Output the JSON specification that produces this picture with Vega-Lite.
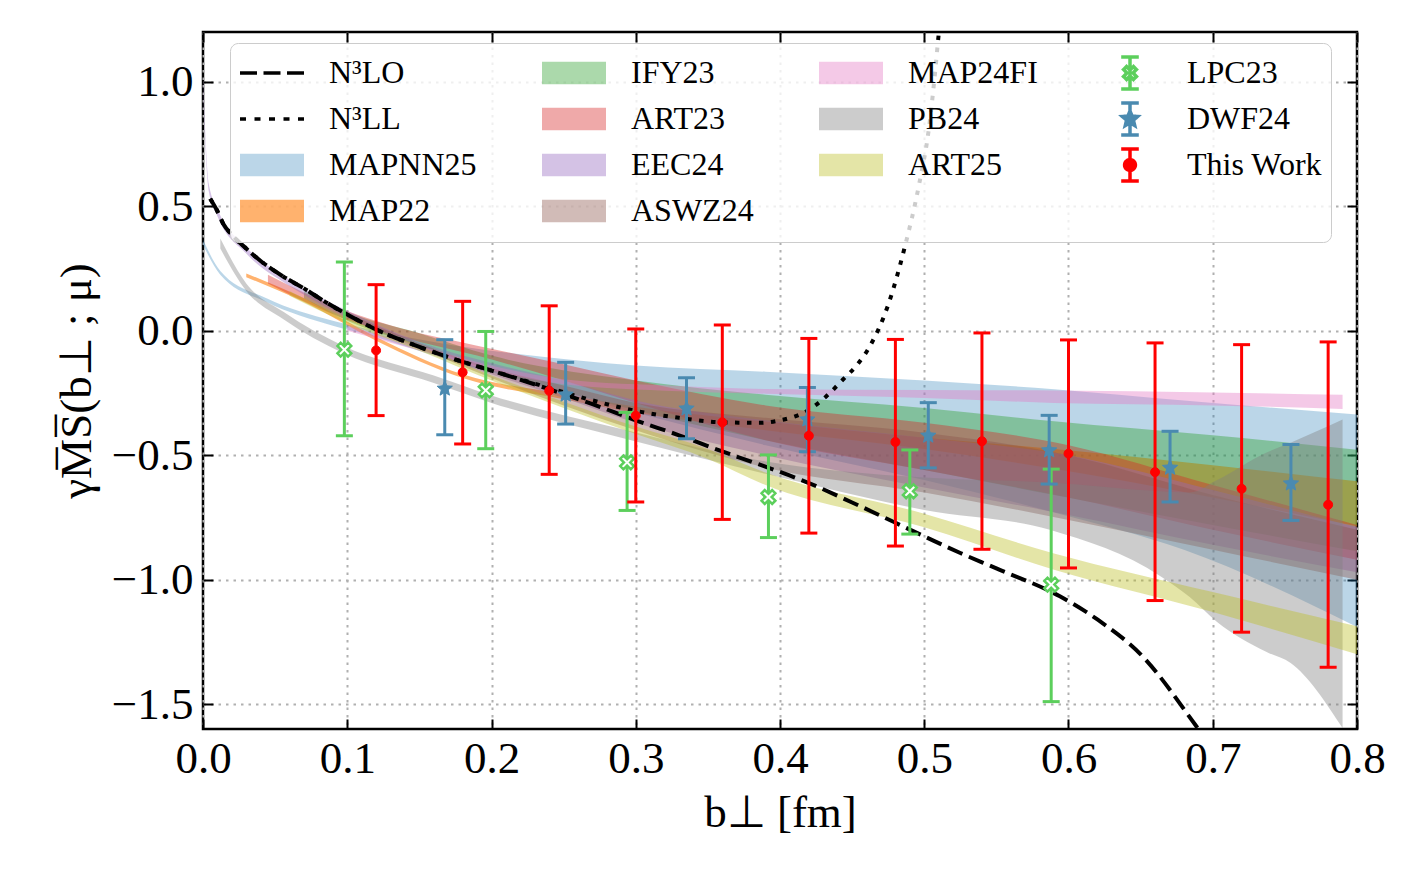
{
  "$schema": "https://vega.github.io/schema/vega-lite/v6.json",
  "width": 1154,
  "height": 697,
  "autosize": {"type": "none"},
  "padding": {"left": 203, "top": 32, "right": 63, "bottom": 149},
  "background": "white",
  "config": {
    "view": {"stroke": "black", "strokeWidth": 2.5},
    "axis": {"domain": false, "tickColor": "black", "tickWidth": 2, "tickSize": -10, "labelFont": "Liberation Serif", "labelFontSize": 45, "labelColor": "black", "titleFont": "Liberation Serif", "titleFontSize": 45, "titleFontWeight": "normal", "titleColor": "black", "gridColor": "#b0b0b0", "gridDash": [2.5, 5], "gridWidth": 2, "gridOpacity": 1, "labelOverlap": false, "labelFlush": false}
  },
  "datasets": {
    "bands": [
      {"series": "MAPNN25", "b": 0.0, "lo": 0.345, "hi": 0.365},
      {"series": "MAPNN25", "b": 0.012, "lo": 0.225, "hi": 0.24},
      {"series": "MAPNN25", "b": 0.044, "lo": 0.115, "hi": 0.13},
      {"series": "MAPNN25", "b": 0.09, "lo": 0.02, "hi": 0.04},
      {"series": "MAPNN25", "b": 0.12, "lo": -0.025, "hi": 0.0},
      {"series": "MAPNN25", "b": 0.16, "lo": -0.1, "hi": -0.045},
      {"series": "MAPNN25", "b": 0.22, "lo": -0.2, "hi": -0.095},
      {"series": "MAPNN25", "b": 0.3, "lo": -0.33, "hi": -0.14},
      {"series": "MAPNN25", "b": 0.39, "lo": -0.46, "hi": -0.165},
      {"series": "MAPNN25", "b": 0.5, "lo": -0.6, "hi": -0.2},
      {"series": "MAPNN25", "b": 0.59, "lo": -0.73, "hi": -0.235},
      {"series": "MAPNN25", "b": 0.68, "lo": -0.88, "hi": -0.28},
      {"series": "MAPNN25", "b": 0.8, "lo": -1.19, "hi": -0.337},
      {"series": "MAP22", "b": 0.03, "lo": 0.215, "hi": 0.23},
      {"series": "MAP22", "b": 0.07, "lo": 0.115, "hi": 0.13},
      {"series": "MAP22", "b": 0.12, "lo": -0.04, "hi": -0.025},
      {"series": "MAP22", "b": 0.18, "lo": -0.19, "hi": -0.175},
      {"series": "MAP22", "b": 0.25, "lo": -0.275, "hi": -0.255},
      {"series": "MAP22", "b": 0.3, "lo": -0.33, "hi": -0.305},
      {"series": "MAP22", "b": 0.39, "lo": -0.4, "hi": -0.365},
      {"series": "MAP22", "b": 0.5, "lo": -0.475, "hi": -0.43},
      {"series": "MAP22", "b": 0.59, "lo": -0.555, "hi": -0.475},
      {"series": "MAP22", "b": 0.7, "lo": -0.67, "hi": -0.54},
      {"series": "MAP22", "b": 0.8, "lo": -0.786, "hi": -0.605},
      {"series": "IFY23", "b": 0.07, "lo": 0.13, "hi": 0.16},
      {"series": "IFY23", "b": 0.1, "lo": 0.04, "hi": 0.075},
      {"series": "IFY23", "b": 0.15, "lo": -0.06, "hi": -0.01},
      {"series": "IFY23", "b": 0.2, "lo": -0.16, "hi": -0.1},
      {"series": "IFY23", "b": 0.3, "lo": -0.32, "hi": -0.2},
      {"series": "IFY23", "b": 0.39, "lo": -0.44, "hi": -0.257},
      {"series": "IFY23", "b": 0.5, "lo": -0.56, "hi": -0.31},
      {"series": "IFY23", "b": 0.59, "lo": -0.66, "hi": -0.364},
      {"series": "IFY23", "b": 0.7, "lo": -0.78, "hi": -0.42},
      {"series": "IFY23", "b": 0.8, "lo": -0.886, "hi": -0.478},
      {"series": "ART23", "b": 0.045, "lo": 0.19, "hi": 0.225},
      {"series": "ART23", "b": 0.097, "lo": 0.05, "hi": 0.085},
      {"series": "ART23", "b": 0.137, "lo": -0.025, "hi": 0.01},
      {"series": "ART23", "b": 0.19, "lo": -0.1, "hi": -0.06},
      {"series": "ART23", "b": 0.25, "lo": -0.2, "hi": -0.135},
      {"series": "ART23", "b": 0.3, "lo": -0.29, "hi": -0.2},
      {"series": "ART23", "b": 0.39, "lo": -0.44, "hi": -0.3},
      {"series": "ART23", "b": 0.5, "lo": -0.56, "hi": -0.37},
      {"series": "ART23", "b": 0.6, "lo": -0.67, "hi": -0.46},
      {"series": "ART23", "b": 0.7, "lo": -0.8, "hi": -0.62},
      {"series": "ART23", "b": 0.8, "lo": -0.92, "hi": -0.78},
      {"series": "EEC24", "b": 0.0, "lo": 0.98, "hi": 1.02},
      {"series": "EEC24", "b": 0.001, "lo": 0.83, "hi": 0.87},
      {"series": "EEC24", "b": 0.004, "lo": 0.56, "hi": 0.59},
      {"series": "EEC24", "b": 0.01, "lo": 0.46, "hi": 0.49},
      {"series": "EEC24", "b": 0.03, "lo": 0.31, "hi": 0.335},
      {"series": "EEC24", "b": 0.06, "lo": 0.18, "hi": 0.205},
      {"series": "EEC24", "b": 0.1, "lo": 0.055, "hi": 0.08},
      {"series": "EEC24", "b": 0.15, "lo": -0.075, "hi": -0.045},
      {"series": "EEC24", "b": 0.2, "lo": -0.175, "hi": -0.13},
      {"series": "EEC24", "b": 0.25, "lo": -0.27, "hi": -0.2},
      {"series": "EEC24", "b": 0.3, "lo": -0.37, "hi": -0.28},
      {"series": "EEC24", "b": 0.39, "lo": -0.5, "hi": -0.36},
      {"series": "EEC24", "b": 0.5, "lo": -0.63, "hi": -0.43},
      {"series": "EEC24", "b": 0.6, "lo": -0.74, "hi": -0.5},
      {"series": "EEC24", "b": 0.7, "lo": -0.86, "hi": -0.64},
      {"series": "EEC24", "b": 0.8, "lo": -0.97, "hi": -0.79},
      {"series": "ASWZ24", "b": 0.1, "lo": 0.05, "hi": 0.07},
      {"series": "ASWZ24", "b": 0.15, "lo": -0.07, "hi": -0.05},
      {"series": "ASWZ24", "b": 0.2, "lo": -0.19, "hi": -0.15},
      {"series": "ASWZ24", "b": 0.25, "lo": -0.3, "hi": -0.22},
      {"series": "ASWZ24", "b": 0.3, "lo": -0.4, "hi": -0.29},
      {"series": "ASWZ24", "b": 0.39, "lo": -0.55, "hi": -0.35},
      {"series": "ASWZ24", "b": 0.5, "lo": -0.65, "hi": -0.41},
      {"series": "ASWZ24", "b": 0.6, "lo": -0.76, "hi": -0.5},
      {"series": "ASWZ24", "b": 0.7, "lo": -0.88, "hi": -0.66},
      {"series": "ASWZ24", "b": 0.8, "lo": -1.0, "hi": -0.8},
      {"series": "MAP24FI", "b": 0.1, "lo": 0.0, "hi": 0.02},
      {"series": "MAP24FI", "b": 0.15, "lo": -0.08, "hi": -0.06},
      {"series": "MAP24FI", "b": 0.2, "lo": -0.16, "hi": -0.14},
      {"series": "MAP24FI", "b": 0.25, "lo": -0.215, "hi": -0.195},
      {"series": "MAP24FI", "b": 0.33, "lo": -0.243, "hi": -0.222},
      {"series": "MAP24FI", "b": 0.39, "lo": -0.253, "hi": -0.234},
      {"series": "MAP24FI", "b": 0.5, "lo": -0.27, "hi": -0.238},
      {"series": "MAP24FI", "b": 0.59, "lo": -0.29, "hi": -0.24},
      {"series": "MAP24FI", "b": 0.7, "lo": -0.3, "hi": -0.248},
      {"series": "MAP24FI", "b": 0.79, "lo": -0.314, "hi": -0.257},
      {"series": "PB24", "b": 0.012, "lo": 0.33, "hi": 0.37},
      {"series": "PB24", "b": 0.03, "lo": 0.16, "hi": 0.19},
      {"series": "PB24", "b": 0.056, "lo": 0.045, "hi": 0.075},
      {"series": "PB24", "b": 0.097, "lo": -0.09, "hi": -0.06},
      {"series": "PB24", "b": 0.16, "lo": -0.21, "hi": -0.18},
      {"series": "PB24", "b": 0.2, "lo": -0.29, "hi": -0.26},
      {"series": "PB24", "b": 0.29, "lo": -0.43, "hi": -0.395},
      {"series": "PB24", "b": 0.39, "lo": -0.575, "hi": -0.525},
      {"series": "PB24", "b": 0.5, "lo": -0.72, "hi": -0.59},
      {"series": "PB24", "b": 0.587, "lo": -0.8, "hi": -0.61},
      {"series": "PB24", "b": 0.664, "lo": -0.987, "hi": -0.645},
      {"series": "PB24", "b": 0.684, "lo": -1.07, "hi": -0.65},
      {"series": "PB24", "b": 0.703, "lo": -1.17, "hi": -0.6},
      {"series": "PB24", "b": 0.737, "lo": -1.29, "hi": -0.49},
      {"series": "PB24", "b": 0.754, "lo": -1.335, "hi": -0.45},
      {"series": "PB24", "b": 0.79, "lo": -1.596, "hi": -0.357},
      {"series": "ART25", "b": 0.06, "lo": 0.14, "hi": 0.16},
      {"series": "ART25", "b": 0.1, "lo": 0.03, "hi": 0.05},
      {"series": "ART25", "b": 0.15, "lo": -0.08, "hi": -0.06},
      {"series": "ART25", "b": 0.2, "lo": -0.2, "hi": -0.18},
      {"series": "ART25", "b": 0.25, "lo": -0.31, "hi": -0.285},
      {"series": "ART25", "b": 0.3, "lo": -0.415, "hi": -0.385},
      {"series": "ART25", "b": 0.35, "lo": -0.515, "hi": -0.475},
      {"series": "ART25", "b": 0.39, "lo": -0.62, "hi": -0.57},
      {"series": "ART25", "b": 0.5, "lo": -0.79, "hi": -0.735},
      {"series": "ART25", "b": 0.59, "lo": -0.96, "hi": -0.895},
      {"series": "ART25", "b": 0.7, "lo": -1.13, "hi": -1.05},
      {"series": "ART25", "b": 0.8, "lo": -1.3, "hi": -1.187}
    ],
    "curves": [
      {"series": "N³LO", "b": 0.005, "v": 0.53},
      {"series": "N³LO", "b": 0.01, "v": 0.48},
      {"series": "N³LO", "b": 0.014, "v": 0.43},
      {"series": "N³LO", "b": 0.02, "v": 0.385},
      {"series": "N³LO", "b": 0.03, "v": 0.33},
      {"series": "N³LO", "b": 0.04, "v": 0.28},
      {"series": "N³LO", "b": 0.055, "v": 0.22},
      {"series": "N³LO", "b": 0.07, "v": 0.17},
      {"series": "N³LO", "b": 0.085, "v": 0.115},
      {"series": "N³LO", "b": 0.1, "v": 0.065},
      {"series": "N³LO", "b": 0.12, "v": 0.005},
      {"series": "N³LO", "b": 0.15, "v": -0.065},
      {"series": "N³LO", "b": 0.18, "v": -0.125},
      {"series": "N³LO", "b": 0.2, "v": -0.16},
      {"series": "N³LO", "b": 0.24, "v": -0.235},
      {"series": "N³LO", "b": 0.27, "v": -0.295},
      {"series": "N³LO", "b": 0.3, "v": -0.36},
      {"series": "N³LO", "b": 0.33, "v": -0.42},
      {"series": "N³LO", "b": 0.36, "v": -0.485},
      {"series": "N³LO", "b": 0.386, "v": -0.538},
      {"series": "N³LO", "b": 0.42, "v": -0.612},
      {"series": "N³LO", "b": 0.45, "v": -0.69},
      {"series": "N³LO", "b": 0.5, "v": -0.826},
      {"series": "N³LO", "b": 0.525, "v": -0.893},
      {"series": "N³LO", "b": 0.55, "v": -0.955},
      {"series": "N³LO", "b": 0.594, "v": -1.067},
      {"series": "N³LO", "b": 0.62, "v": -1.16},
      {"series": "N³LO", "b": 0.65, "v": -1.3},
      {"series": "N³LO", "b": 0.69, "v": -1.6},
      {"series": "N³LO", "b": 0.71, "v": -1.76},
      {"series": "N³LL", "b": 0.005, "v": 0.53},
      {"series": "N³LL", "b": 0.01, "v": 0.48},
      {"series": "N³LL", "b": 0.014, "v": 0.43},
      {"series": "N³LL", "b": 0.02, "v": 0.385},
      {"series": "N³LL", "b": 0.03, "v": 0.33},
      {"series": "N³LL", "b": 0.04, "v": 0.28},
      {"series": "N³LL", "b": 0.055, "v": 0.22},
      {"series": "N³LL", "b": 0.07, "v": 0.17},
      {"series": "N³LL", "b": 0.085, "v": 0.115},
      {"series": "N³LL", "b": 0.1, "v": 0.065},
      {"series": "N³LL", "b": 0.12, "v": 0.005},
      {"series": "N³LL", "b": 0.15, "v": -0.065},
      {"series": "N³LL", "b": 0.18, "v": -0.125},
      {"series": "N³LL", "b": 0.2, "v": -0.16},
      {"series": "N³LL", "b": 0.24, "v": -0.23},
      {"series": "N³LL", "b": 0.27, "v": -0.28},
      {"series": "N³LL", "b": 0.3, "v": -0.322},
      {"series": "N³LL", "b": 0.33, "v": -0.35},
      {"series": "N³LL", "b": 0.36, "v": -0.368},
      {"series": "N³LL", "b": 0.386, "v": -0.37},
      {"series": "N³LL", "b": 0.4, "v": -0.36},
      {"series": "N³LL", "b": 0.41, "v": -0.345},
      {"series": "N³LL", "b": 0.42, "v": -0.318},
      {"series": "N³LL", "b": 0.432, "v": -0.264},
      {"series": "N³LL", "b": 0.444, "v": -0.194},
      {"series": "N³LL", "b": 0.453, "v": -0.14},
      {"series": "N³LL", "b": 0.463, "v": -0.055},
      {"series": "N³LL", "b": 0.475, "v": 0.104},
      {"series": "N³LL", "b": 0.486, "v": 0.325},
      {"series": "N³LL", "b": 0.4966, "v": 0.593},
      {"series": "N³LL", "b": 0.5031, "v": 0.807},
      {"series": "N³LL", "b": 0.507, "v": 1.008},
      {"series": "N³LL", "b": 0.5101, "v": 1.196},
      {"series": "N³LL", "b": 0.512, "v": 1.3}
    ],
    "points": [
      {"series": "LPC23", "b": 0.098, "v": -0.076, "lo": -0.422, "hi": 0.276},
      {"series": "LPC23", "b": 0.196, "v": -0.24, "lo": -0.474, "hi": -0.003},
      {"series": "LPC23", "b": 0.294, "v": -0.529, "lo": -0.722, "hi": -0.328},
      {"series": "LPC23", "b": 0.392, "v": -0.668, "lo": -0.831, "hi": -0.499},
      {"series": "LPC23", "b": 0.49, "v": -0.645, "lo": -0.817, "hi": -0.479},
      {"series": "LPC23", "b": 0.588, "v": -1.02, "lo": -1.49, "hi": -0.556},
      {"series": "DWF24", "b": 0.1676, "v": -0.233, "lo": -0.418, "hi": -0.036},
      {"series": "DWF24", "b": 0.2514, "v": -0.257, "lo": -0.375, "hi": -0.127},
      {"series": "DWF24", "b": 0.3352, "v": -0.313, "lo": -0.434, "hi": -0.189},
      {"series": "DWF24", "b": 0.419, "v": -0.357, "lo": -0.486, "hi": -0.228},
      {"series": "DWF24", "b": 0.5028, "v": -0.422, "lo": -0.551, "hi": -0.289},
      {"series": "DWF24", "b": 0.5866, "v": -0.481, "lo": -0.616, "hi": -0.34},
      {"series": "DWF24", "b": 0.6704, "v": -0.551, "lo": -0.688, "hi": -0.404},
      {"series": "DWF24", "b": 0.7542, "v": -0.614, "lo": -0.762, "hi": -0.457},
      {"series": "This Work", "b": 0.12, "v": -0.079, "lo": -0.341, "hi": 0.185},
      {"series": "This Work", "b": 0.18, "v": -0.167, "lo": -0.455, "hi": 0.118},
      {"series": "This Work", "b": 0.24, "v": -0.241, "lo": -0.577, "hi": 0.1},
      {"series": "This Work", "b": 0.3, "v": -0.341, "lo": -0.688, "hi": 0.007},
      {"series": "This Work", "b": 0.36, "v": -0.368, "lo": -0.758, "hi": 0.023},
      {"series": "This Work", "b": 0.42, "v": -0.422, "lo": -0.813, "hi": -0.031},
      {"series": "This Work", "b": 0.48, "v": -0.447, "lo": -0.865, "hi": -0.035},
      {"series": "This Work", "b": 0.54, "v": -0.444, "lo": -0.878, "hi": -0.009},
      {"series": "This Work", "b": 0.6, "v": -0.494, "lo": -0.953, "hi": -0.037},
      {"series": "This Work", "b": 0.66, "v": -0.568, "lo": -1.084, "hi": -0.049},
      {"series": "This Work", "b": 0.72, "v": -0.635, "lo": -1.211, "hi": -0.056},
      {"series": "This Work", "b": 0.78, "v": -0.699, "lo": -1.352, "hi": -0.045}
    ]
  },
  "layer": [
    {
      "data": {"name": "bands"},
      "transform": [{"filter": "datum.series === 'MAPNN25'"}],
      "mark": {"type": "area", "interpolate": "monotone", "clip": true, "fillOpacity": 0.3},
      "encoding": {
        "x": {"field": "b", "type": "quantitative", "scale": {"domain": [0, 0.8], "nice": false, "zero": false},
              "axis": {"orient": "bottom", "values": [0, 0.1, 0.2, 0.3, 0.4, 0.5, 0.6, 0.7, 0.8], "format": ".1f", "grid": true, "labelPadding": 17, "title": "b⊥ [fm]", "titlePadding": 9}},
        "y": {"field": "lo", "type": "quantitative", "scale": {"domain": [-1.6, 1.2], "nice": false, "zero": false},
              "axis": {"orient": "left", "values": [-1.5, -1, -0.5, 0, 0.5, 1], "format": ".1f", "grid": true, "labelPadding": 20, "title": "γM̅S̅(b⊥ ; μ)", "titlePadding": 12}},
        "y2": {"field": "hi"},
        "color": {"field": "series", "type": "nominal", "legend": null,
          "scale": {"domain": ["N³LO", "N³LL", "MAPNN25", "MAP22", "IFY23", "ART23", "EEC24", "ASWZ24", "MAP24FI", "PB24", "ART25", "LPC23", "DWF24", "This Work"],
                    "range": ["#000000", "#000000", "#1f77b4", "#ff7f0e", "#2ca02c", "#d62728", "#9467bd", "#8c564b", "#e377c2", "#7f7f7f", "#bcbd22", "#5ccf5c", "#4a8ab0", "#ff0000"]}}
      }
    },
    {
      "data": {"name": "bands"},
      "transform": [{"filter": "datum.series === 'MAP22'"}],
      "mark": {"type": "area", "interpolate": "monotone", "clip": true, "fillOpacity": 0.6},
      "encoding": {
        "x": {"field": "b", "type": "quantitative", "scale": {"domain": [0, 0.8], "nice": false, "zero": false}, "axis": null},
        "y": {"field": "lo", "type": "quantitative", "scale": {"domain": [-1.6, 1.2], "nice": false, "zero": false}, "axis": null},
        "y2": {"field": "hi"},
        "color": {"field": "series", "type": "nominal", "legend": null,
          "scale": {"domain": ["N³LO", "N³LL", "MAPNN25", "MAP22", "IFY23", "ART23", "EEC24", "ASWZ24", "MAP24FI", "PB24", "ART25", "LPC23", "DWF24", "This Work"],
                    "range": ["#000000", "#000000", "#1f77b4", "#ff7f0e", "#2ca02c", "#d62728", "#9467bd", "#8c564b", "#e377c2", "#7f7f7f", "#bcbd22", "#5ccf5c", "#4a8ab0", "#ff0000"]}}
      }
    },
    {
      "data": {"name": "bands"},
      "transform": [{"filter": "datum.series !== 'MAPNN25' && datum.series !== 'MAP22'"}],
      "mark": {"type": "area", "interpolate": "monotone", "clip": true, "fillOpacity": 0.4},
      "encoding": {
        "x": {"field": "b", "type": "quantitative", "scale": {"domain": [0, 0.8], "nice": false, "zero": false}, "axis": null},
        "y": {"field": "lo", "type": "quantitative", "scale": {"domain": [-1.6, 1.2], "nice": false, "zero": false}, "axis": null},
        "y2": {"field": "hi"},
        "color": {"field": "series", "type": "nominal", "legend": null,
          "scale": {"domain": ["N³LO", "N³LL", "MAPNN25", "MAP22", "IFY23", "ART23", "EEC24", "ASWZ24", "MAP24FI", "PB24", "ART25", "LPC23", "DWF24", "This Work"],
                    "range": ["#000000", "#000000", "#1f77b4", "#ff7f0e", "#2ca02c", "#d62728", "#9467bd", "#8c564b", "#e377c2", "#7f7f7f", "#bcbd22", "#5ccf5c", "#4a8ab0", "#ff0000"]}}
      }
    },
    {
      "data": {"name": "curves"},
      "transform": [{"filter": "datum.series === 'N³LO'"}],
      "mark": {"type": "line", "interpolate": "monotone", "clip": true, "strokeWidth": 4, "strokeCap": "butt", "strokeDash": [16, 7], "color": "black"},
      "encoding": {
        "x": {"field": "b", "type": "quantitative", "scale": {"domain": [0, 0.8], "nice": false, "zero": false},
              "axis": {"orient": "top", "values": [0, 0.1, 0.2, 0.3, 0.4, 0.5, 0.6, 0.7, 0.8], "labels": false, "grid": false, "title": null}},
        "y": {"field": "v", "type": "quantitative", "scale": {"domain": [-1.6, 1.2], "nice": false, "zero": false},
              "axis": {"orient": "right", "values": [-1.5, -1, -0.5, 0, 0.5, 1], "labels": false, "grid": false, "title": null}}
      }
    },
    {
      "data": {"name": "curves"},
      "transform": [{"filter": "datum.series === 'N³LL'"}],
      "mark": {"type": "line", "interpolate": "monotone", "clip": true, "strokeWidth": 4, "strokeCap": "butt", "strokeDash": [4.5, 7.5], "color": "black"},
      "encoding": {
        "x": {"field": "b", "type": "quantitative", "scale": {"domain": [0, 0.8], "nice": false, "zero": false}, "axis": null},
        "y": {"field": "v", "type": "quantitative", "scale": {"domain": [-1.6, 1.2], "nice": false, "zero": false}, "axis": null}
      }
    },
    {
      "data": {"name": "points"},
      "transform": [{"filter": "datum.series === 'LPC23'"}],
      "mark": {"type": "rule", "strokeWidth": 3, "clip": true},
      "encoding": {
        "x": {"field": "b", "type": "quantitative", "scale": {"domain": [0, 0.8], "nice": false, "zero": false}, "axis": null},
        "y": {"field": "lo", "type": "quantitative", "scale": {"domain": [-1.6, 1.2], "nice": false, "zero": false}, "axis": null},
        "y2": {"field": "hi"},
        "color": {"value": "#5ccf5c"}
      }
    },
    {
      "data": {"name": "points"},
      "transform": [{"filter": "datum.series === 'LPC23'"}, {"fold": ["lo", "hi"], "as": ["end", "yv"]}],
      "mark": {"type": "point", "shape": "M-1,0H1", "size": 289, "filled": false, "strokeWidth": 3, "opacity": 1, "color": "#5ccf5c", "clip": true},
      "encoding": {
        "x": {"field": "b", "type": "quantitative", "scale": {"domain": [0, 0.8], "nice": false, "zero": false}, "axis": null},
        "y": {"field": "yv", "type": "quantitative", "scale": {"domain": [-1.6, 1.2], "nice": false, "zero": false}, "axis": null}
      }
    },
    {
      "data": {"name": "points"},
      "transform": [{"filter": "datum.series === 'LPC23'"}],
      "mark": {"type": "point", "shape": "M0.495,-0.919L0.919,-0.495L0.424,0L0.919,0.495L0.495,0.919L0,0.424L-0.495,0.919L-0.919,0.495L-0.424,0L-0.919,-0.495L-0.495,-0.919L0,-0.424Z", "size": 225, "filled": true, "fill": "white", "stroke": "#5ccf5c", "strokeWidth": 2.5, "opacity": 1, "clip": true},
      "encoding": {
        "x": {"field": "b", "type": "quantitative", "scale": {"domain": [0, 0.8], "nice": false, "zero": false}, "axis": null},
        "y": {"field": "v", "type": "quantitative", "scale": {"domain": [-1.6, 1.2], "nice": false, "zero": false}, "axis": null}
      }
    },
    {
      "data": {"name": "points"},
      "transform": [{"filter": "datum.series === 'DWF24'"}],
      "mark": {"type": "rule", "strokeWidth": 3, "clip": true},
      "encoding": {
        "x": {"field": "b", "type": "quantitative", "scale": {"domain": [0, 0.8], "nice": false, "zero": false}, "axis": null},
        "y": {"field": "lo", "type": "quantitative", "scale": {"domain": [-1.6, 1.2], "nice": false, "zero": false}, "axis": null},
        "y2": {"field": "hi"},
        "color": {"value": "#4a8ab0"}
      }
    },
    {
      "data": {"name": "points"},
      "transform": [{"filter": "datum.series === 'DWF24'"}, {"fold": ["lo", "hi"], "as": ["end", "yv"]}],
      "mark": {"type": "point", "shape": "M-1,0H1", "size": 289, "filled": false, "strokeWidth": 3, "opacity": 1, "color": "#4a8ab0", "clip": true},
      "encoding": {
        "x": {"field": "b", "type": "quantitative", "scale": {"domain": [0, 0.8], "nice": false, "zero": false}, "axis": null},
        "y": {"field": "yv", "type": "quantitative", "scale": {"domain": [-1.6, 1.2], "nice": false, "zero": false}, "axis": null}
      }
    },
    {
      "data": {"name": "points"},
      "transform": [{"filter": "datum.series === 'DWF24'"}],
      "mark": {"type": "point", "shape": "M0,-1L0.265,-0.364L0.951,-0.309L0.428,0.139L0.588,0.809L0,0.45L-0.588,0.809L-0.428,0.139L-0.951,-0.309L-0.265,-0.364Z", "size": 256, "filled": true, "fill": "#4a8ab0", "stroke": "#4a8ab0", "strokeWidth": 1, "opacity": 1, "clip": true},
      "encoding": {
        "x": {"field": "b", "type": "quantitative", "scale": {"domain": [0, 0.8], "nice": false, "zero": false}, "axis": null},
        "y": {"field": "v", "type": "quantitative", "scale": {"domain": [-1.6, 1.2], "nice": false, "zero": false}, "axis": null}
      }
    },
    {
      "data": {"name": "points"},
      "transform": [{"filter": "datum.series === 'This Work'"}],
      "mark": {"type": "rule", "strokeWidth": 3, "clip": true},
      "encoding": {
        "x": {"field": "b", "type": "quantitative", "scale": {"domain": [0, 0.8], "nice": false, "zero": false}, "axis": null},
        "y": {"field": "lo", "type": "quantitative", "scale": {"domain": [-1.6, 1.2], "nice": false, "zero": false}, "axis": null},
        "y2": {"field": "hi"},
        "color": {"value": "#ff0000"}
      }
    },
    {
      "data": {"name": "points"},
      "transform": [{"filter": "datum.series === 'This Work'"}, {"fold": ["lo", "hi"], "as": ["end", "yv"]}],
      "mark": {"type": "point", "shape": "M-1,0H1", "size": 289, "filled": false, "strokeWidth": 3, "opacity": 1, "color": "#ff0000", "clip": true},
      "encoding": {
        "x": {"field": "b", "type": "quantitative", "scale": {"domain": [0, 0.8], "nice": false, "zero": false}, "axis": null},
        "y": {"field": "yv", "type": "quantitative", "scale": {"domain": [-1.6, 1.2], "nice": false, "zero": false}, "axis": null}
      }
    },
    {
      "data": {"name": "points"},
      "transform": [{"filter": "datum.series === 'This Work'"}],
      "mark": {"type": "point", "shape": "circle", "size": 80, "filled": true, "fill": "#ff0000", "stroke": "#ff0000", "strokeWidth": 1, "opacity": 1, "clip": true},
      "encoding": {
        "x": {"field": "b", "type": "quantitative", "scale": {"domain": [0, 0.8], "nice": false, "zero": false}, "axis": null},
        "y": {"field": "v", "type": "quantitative", "scale": {"domain": [-1.6, 1.2], "nice": false, "zero": false}, "axis": null}
      }
    },
    {
      "data": {"name": "curves"},
      "mark": {"type": "point", "opacity": 0, "size": 1, "strokeWidth": 3.5, "clip": true},
      "encoding": {
        "x": {"field": "b", "type": "quantitative", "scale": {"domain": [0, 0.8], "nice": false, "zero": false}, "axis": null},
        "y": {"field": "v", "type": "quantitative", "scale": {"domain": [-1.6, 1.2], "nice": false, "zero": false}, "axis": null},
        "shape": {
          "field": "series", "type": "nominal",
          "scale": {
            "domain": ["N³LO", "IFY23", "MAP24FI", "LPC23", "N³LL", "ART23", "PB24", "DWF24", "MAPNN25", "EEC24", "ART25", "This Work", "MAP22", "ASWZ24"],
            "range": [
              "M-1,-0.8M-1,0.8M-1,0H2.2",
              "M-1,-0.8M-1,0.8M-1,-0.56H2.2V0.56H-1Z",
              "M-1,-0.8M-1,0.8M-1,-0.56H2.2V0.56H-1Z",
              "M0.6,-0.8V0.8M0.16,-0.8H1.04M0.16,0.8H1.04M0.773,-0.322L0.922,-0.173L0.748,0L0.922,0.173L0.773,0.322L0.6,0.148L0.427,0.322L0.278,0.173L0.452,0L0.278,-0.173L0.427,-0.322L0.6,-0.148Z",
              "M-1,-0.8M-1,0.8M-1,0H2.2",
              "M-1,-0.8M-1,0.8M-1,-0.56H2.2V0.56H-1Z",
              "M-1,-0.8M-1,0.8M-1,-0.56H2.2V0.56H-1Z",
              "M0.6,-0.8V0.8M0.16,-0.8H1.04M0.16,0.8H1.04M0.6,-0.4L0.706,-0.146L0.98,-0.124L0.771,0.056L0.835,0.324L0.6,0.18L0.365,0.324L0.429,0.056L0.22,-0.124L0.494,-0.146Z",
              "M-1,-0.8M-1,0.8M-1,-0.56H2.2V0.56H-1Z",
              "M-1,-0.8M-1,0.8M-1,-0.56H2.2V0.56H-1Z",
              "M-1,-0.8M-1,0.8M-1,-0.56H2.2V0.56H-1Z",
              "M0.6,-0.8V0.8M0.16,-0.8H1.04M0.16,0.8H1.04M0.87,0A0.27,0.27 0 1 1 0.33,0A0.27,0.27 0 1 1 0.87,0Z",
              "M-1,-0.8M-1,0.8M-1,-0.56H2.2V0.56H-1Z",
              "M-1,-0.8M-1,0.8M-1,-0.56H2.2V0.56H-1Z"
            ]
          },
          "legend": {"title": null, "orient": "none", "legendX": 27, "legendY": 11, "direction": "horizontal", "columns": 4, "gridAlign": "each", "symbolSize": 1600, "symbolOpacity": 1, "symbolStrokeWidth": 3.5, "symbolStrokeColor": "black", "labelOffset": 47, "labelFont": "Liberation Serif", "labelFontSize": 32, "labelColor": "black", "labelLimit": 400, "columnPadding": 58, "rowPadding": 0, "padding": 8, "strokeColor": "#cccccc", "fillColor": "rgba(255,255,255,0.8)", "cornerRadius": 8}
        },
        "fill": {
          "field": "series", "type": "nominal",
          "scale": {
            "domain": ["N³LO", "IFY23", "MAP24FI", "LPC23", "N³LL", "ART23", "PB24", "DWF24", "MAPNN25", "EEC24", "ART25", "This Work", "MAP22", "ASWZ24"],
            "range": ["transparent", "rgba(44,160,44,0.4)", "rgba(227,119,194,0.4)", "#ffffff", "transparent", "rgba(214,39,40,0.4)", "rgba(127,127,127,0.4)", "#4a8ab0", "rgba(31,119,180,0.3)", "rgba(148,103,189,0.4)", "rgba(188,189,34,0.4)", "#ff0000", "rgba(255,127,14,0.6)", "rgba(140,86,75,0.4)"]
          },
          "legend": {"title": null, "orient": "none", "legendX": 27, "legendY": 11, "direction": "horizontal", "columns": 4, "gridAlign": "each", "symbolSize": 1600, "symbolOpacity": 1, "symbolStrokeWidth": 3.5, "symbolStrokeColor": "black", "labelOffset": 47, "labelFont": "Liberation Serif", "labelFontSize": 32, "labelColor": "black", "labelLimit": 400, "columnPadding": 58, "rowPadding": 0, "padding": 8, "strokeColor": "#cccccc", "fillColor": "rgba(255,255,255,0.8)", "cornerRadius": 8}
        },
        "stroke": {
          "field": "series", "type": "nominal",
          "scale": {
            "domain": ["N³LO", "IFY23", "MAP24FI", "LPC23", "N³LL", "ART23", "PB24", "DWF24", "MAPNN25", "EEC24", "ART25", "This Work", "MAP22", "ASWZ24"],
            "range": ["#000000", "transparent", "transparent", "#5ccf5c", "#000000", "transparent", "transparent", "#4a8ab0", "transparent", "transparent", "transparent", "#ff0000", "transparent", "transparent"]
          },
          "legend": {"title": null, "orient": "none", "legendX": 27, "legendY": 11, "direction": "horizontal", "columns": 4, "gridAlign": "each", "symbolSize": 1600, "symbolOpacity": 1, "symbolStrokeWidth": 3.5, "symbolStrokeColor": "black", "labelOffset": 47, "labelFont": "Liberation Serif", "labelFontSize": 32, "labelColor": "black", "labelLimit": 400, "columnPadding": 58, "rowPadding": 0, "padding": 8, "strokeColor": "#cccccc", "fillColor": "rgba(255,255,255,0.8)", "cornerRadius": 8}
        },
        "strokeDash": {
          "field": "series", "type": "nominal",
          "scale": {
            "domain": ["N³LO", "IFY23", "MAP24FI", "LPC23", "N³LL", "ART23", "PB24", "DWF24", "MAPNN25", "EEC24", "ART25", "This Work", "MAP22", "ASWZ24"],
            "range": [[17, 6.5], [1, 0], [1, 0], [1, 0], [6, 8.5], [1, 0], [1, 0], [1, 0], [1, 0], [1, 0], [1, 0], [1, 0], [1, 0], [1, 0]]
          },
          "legend": {"title": null, "orient": "none", "legendX": 27, "legendY": 11, "direction": "horizontal", "columns": 4, "gridAlign": "each", "symbolSize": 1600, "symbolOpacity": 1, "symbolStrokeWidth": 3.5, "symbolStrokeColor": "black", "labelOffset": 47, "labelFont": "Liberation Serif", "labelFontSize": 32, "labelColor": "black", "labelLimit": 400, "columnPadding": 58, "rowPadding": 0, "padding": 8, "strokeColor": "#cccccc", "fillColor": "rgba(255,255,255,0.8)", "cornerRadius": 8}
        }
      }
    }
  ]
}
